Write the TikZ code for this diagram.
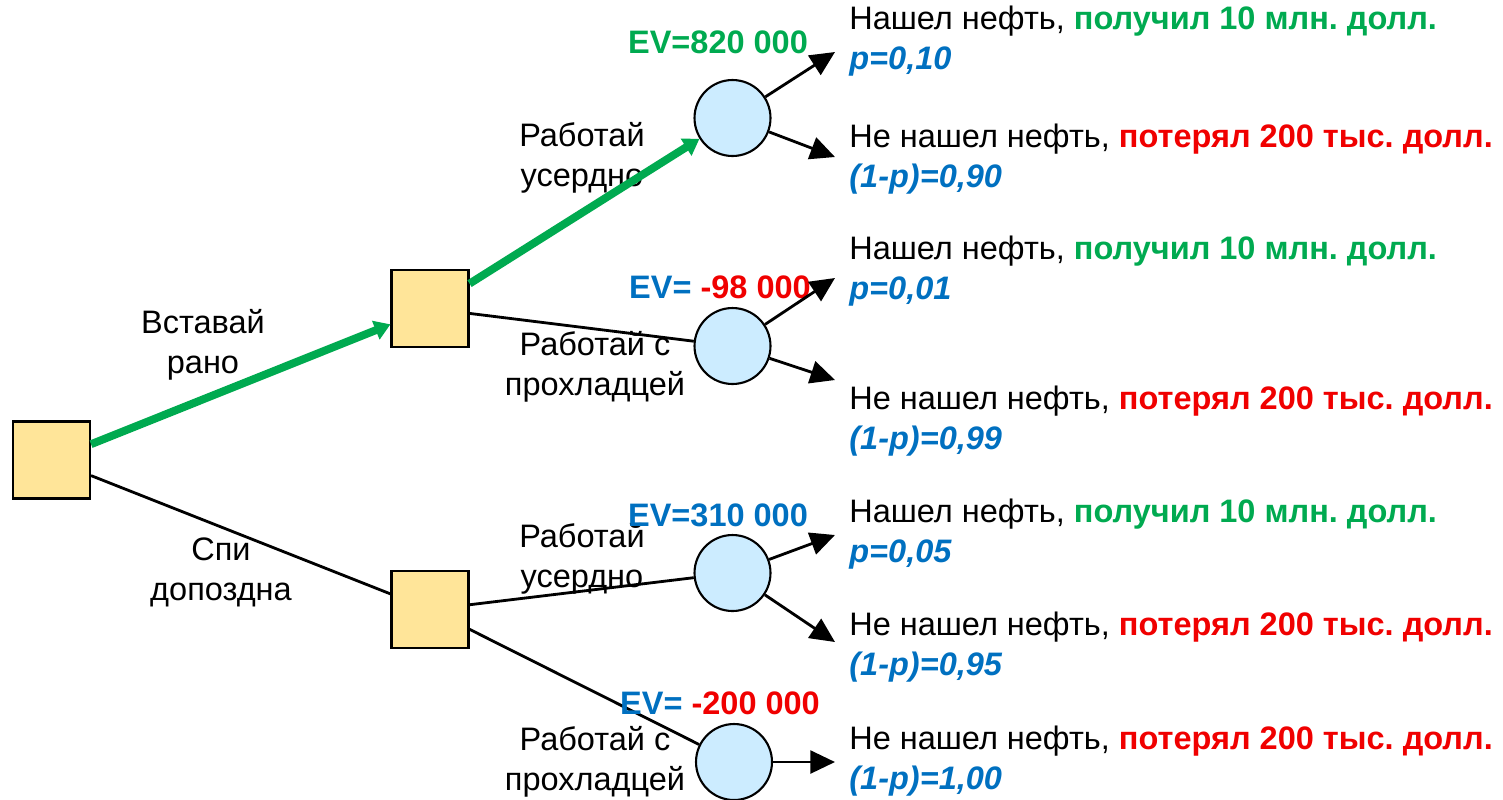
\documentclass[tikz,border=0pt]{standalone}
\usepackage{fontspec}
\setmainfont{Liberation Sans}
\usepackage{xcolor}
\usetikzlibrary{arrows.meta}
\frenchspacing

\definecolor{gaingreen}{RGB}{0,170,80}
\definecolor{probblue}{RGB}{0,112,192}
\definecolor{lossred}{RGB}{240,0,0}
\definecolor{boxfill}{RGB}{255,229,153}
\definecolor{ballfill}{RGB}{204,236,255}

\tikzset{
  decision/.style={draw, line width=1.2pt, fill=boxfill, minimum size=1.54cm, inner sep=0},
  chance/.style={circle, draw, line width=1.2pt, fill=ballfill, minimum size=1.52cm, inner sep=0},
  branch/.style={line width=1.6pt},
  best/.style={line width=4.5pt, draw=gaingreen, -{Triangle[length=9pt, width=11pt, fill=gaingreen]}},
  outcome/.style={line width=1.6pt, -{Triangle[length=14pt, width=13pt]}},
  branchlbl/.style={align=center, inner sep=0},
  ev/.style={font=\fontsize{18.5}{22.8}\selectfont\bfseries, inner sep=0},
  result/.style={anchor=west, align=left, inner sep=0},
}
\newcommand{\gain}{\textcolor{gaingreen}{\bfseries получил 10 млн. долл.}}
\newcommand{\loss}{\textcolor{lossred}{\bfseries потерял 200 тыс. долл.}}
\newcommand{\prob}[1]{\textcolor{probblue}{\bfseries\itshape #1}}

\begin{document}
\begin{tikzpicture}[x=0.02cm, y=-0.02cm, font=\fontsize{18.5}{22.8}\selectfont]
\useasboundingbox (0,0) rectangle (1503,799);

%decision squares
\node[decision] (start) at (51.5,460) {};
\node[decision] (early) at (430,308.5) {};
\node[decision] (late) at (430,609.5) {};
%chance circles
\node[chance] (hardE) at (732.5,118) {};
\node[chance] (easyE) at (732.5,346) {};
\node[chance] (hardL) at (732.5,573) {};
\node[chance] (easyL) at (734,762) {};

%branch labels
\node[branchlbl] (upL) at (203,345) {Вставай\\рано};
\node[branchlbl] (downL) at (221,572) {Спи\\допоздна};
\node[branchlbl] (hardEL) at (582,158) {Работай\\усердно};
\node[branchlbl] (easyEL) at (595,367) {Работай с\\прохладцей};
\node[branchlbl] (hardLL) at (582,559) {Работай\\усердно};
\node[branchlbl] (easyLL) at (595,762) {Работай с\\прохладцей};

%branches, best path in green
\draw[best] (start) -- (early);
\draw[best] (early) -- (hardE);
\draw[branch] (start) -- (late);
\draw[branch] (early) -- (easyE);
\draw[branch] (late) -- (hardL);
\draw[branch] (late) -- (easyL);

%expected values
\node[ev, text=gaingreen] (evHE) at (718,42) {EV=820 000};
\node[ev, text=probblue] (evEE) at (720,287) {EV= \textcolor{lossred}{-98 000}};
\node[ev, text=probblue] (evHL) at (718,515) {EV=310 000};
\node[ev, text=probblue] (evEL) at (720,703) {EV= \textcolor{lossred}{-200 000}};

%outcome arrow ends
\coordinate (t1) at (835,52); \coordinate (t2) at (835,157);
\coordinate (t3) at (835,278); \coordinate (t4) at (835,380);
\coordinate (t5) at (835,535); \coordinate (t6) at (835,642);
\coordinate (t7) at (835,762);
\draw[outcome] (hardE) -- (t1);
\draw[outcome] (hardE) -- (t2);
\draw[outcome] (easyE) -- (t3);
\draw[outcome] (easyE) -- (t4);
\draw[outcome] (hardL) -- (t5);
\draw[outcome] (hardL) -- (t6);
\draw[outcome] (easyL) -- (t7);

%outcomes
\node[result] (o1) at (849,41) {Нашел нефть, \gain\\\prob{p=0,10}};
\node[result] (o2) at (849,159) {Не нашел нефть, \loss\\\prob{(1-p)=0,90}};
\node[result] (o3) at (849,271) {Нашел нефть, \gain\\\prob{p=0,01}};
\node[result] (o4) at (849,421.5) {Не нашел нефть, \loss\\\prob{(1-p)=0,99}};
\node[result] (o5) at (849,534) {Нашел нефть, \gain\\\prob{p=0,05}};
\node[result] (o6) at (849,647) {Не нашел нефть, \loss\\\prob{(1-p)=0,95}};
\node[result] (o7) at (849,761) {Не нашел нефть, \loss\\\prob{(1-p)=1,00}};
\end{tikzpicture}
\end{document}
